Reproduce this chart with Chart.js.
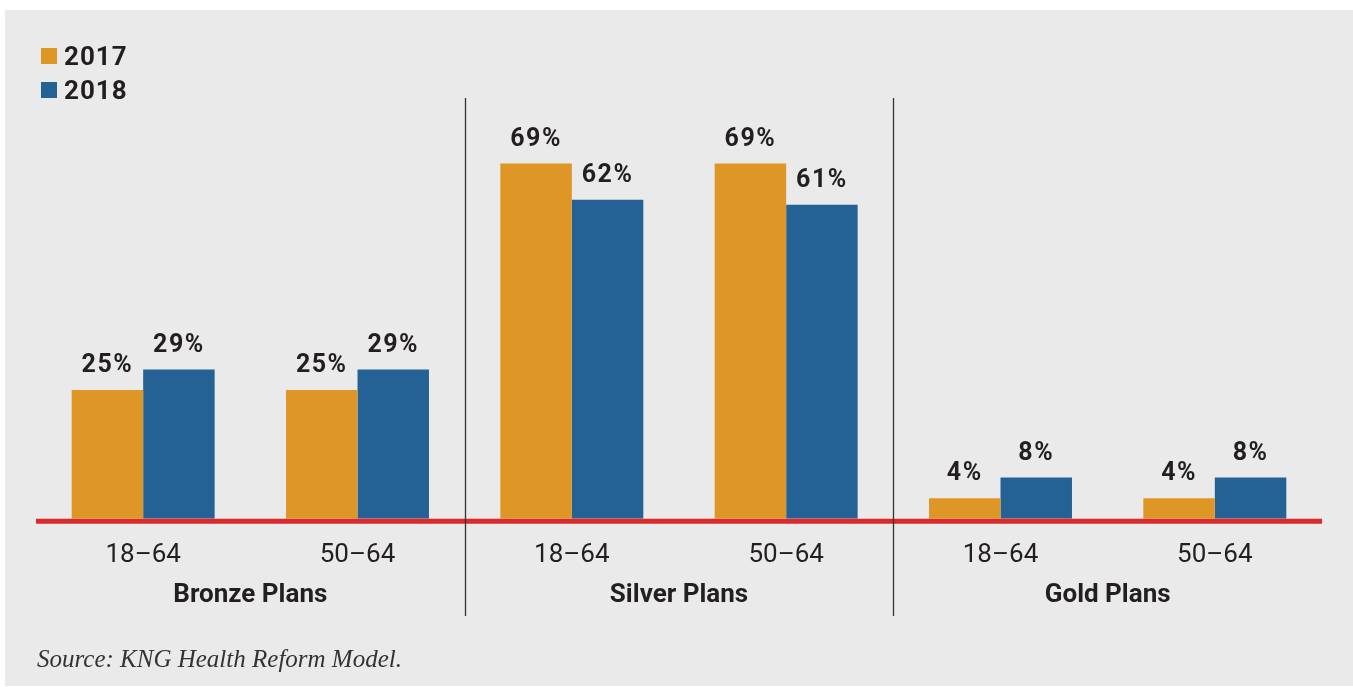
<!DOCTYPE html>
<html>
<head>
<meta charset="utf-8">
<script src="https://cdn.jsdelivr.net/npm/chart.js@4.4.1/dist/chart.umd.min.js"></script>
<style>
    html, body { margin: 0; padding: 0; background: #ffffff; }
    #panel {
        position: absolute; left: 5px; top: 10px; width: 1348px; height: 676px;
        background: #eaeaea;
    }
    #chart { position: absolute; left: 0; top: 0; }
    #legend { position: absolute; left: 41px; top: 39px; font-family: Roboto, sans-serif; }
    .legend-row { display: flex; align-items: center; height: 34px; }
    .legend-box { width: 16px; height: 16px; margin-right: 7px; }
    .legend-text { font-weight: bold; font-size: 26px; color: #231f20; letter-spacing: 1px; }
    #source {
        position: absolute; left: 37px; top: 645px;
        font-family: "Liberation Serif", serif; font-style: italic; font-size: 25px; color: #333333;
    }
</style>
</head>
<body>
<div id="panel"></div>
<canvas id="chart" width="1353" height="687"></canvas>
<div id="legend"></div>
<div id="source">Source: KNG Health Reform Model.</div>
<script>
const ageGroups = ['18–64', '50–64', '18–64', '50–64', '18–64', '50–64'];
const planGroups = ['Bronze Plans', 'Silver Plans', 'Gold Plans'];
const values2017 = [25, 25, 69, 69, 4, 4];
const values2018 = [29, 29, 62, 61, 8, 8];
const seriesNames = ['2017', '2018'];
const seriesColors = ['#de9726', '#246295'];

const textColor = '#231f20';

// value labels above each bar
const valueLabels = {
    id: 'valueLabels',
    afterDatasetsDraw(chart) {
        const ctx = chart.ctx;
        ctx.save();
        ctx.font = 'bold 25px Roboto, sans-serif';
        ctx.letterSpacing = '1.5px';
        ctx.fillStyle = textColor;
        ctx.textAlign = 'center';
        ctx.textBaseline = 'alphabetic';
        chart.data.datasets.forEach((ds, i) => {
            chart.getDatasetMeta(i).data.forEach((bar, j) => {
                ctx.fillText(ds.data[j] + '%', bar.x, bar.y - 18);
            });
        });
        ctx.restore();
    }
};

// red baseline, plan group names and vertical separators
const decorations = {
    id: 'decorations',
    afterDraw(chart) {
        const ctx = chart.ctx;
        const x = chart.scales.x;
        const y = chart.scales.y;
        const area = chart.chartArea;
        ctx.save();
        ctx.strokeStyle = '#d92b2b';
        ctx.lineWidth = 5;
        const y0 = y.getPixelForValue(0) + 2.5;
        ctx.beginPath();
        ctx.moveTo(area.left, y0);
        ctx.lineTo(area.right, y0);
        ctx.stroke();

        ctx.font = 'bold 26px Roboto, sans-serif';
        ctx.fillStyle = textColor;
        ctx.textAlign = 'center';
        ctx.textBaseline = 'middle';
        planGroups.forEach((name, g) => {
            const cx = (x.getPixelForValue(2 * g) + x.getPixelForValue(2 * g + 1)) / 2;
            ctx.fillText(name, cx, area.bottom + 77);
        });

        ctx.strokeStyle = '#333333';
        ctx.lineWidth = 1.3;
        [1, 3].forEach(i => {
            const px = Math.round((x.getPixelForValue(i) + x.getPixelForValue(i + 1)) / 2) + 0.5;
            ctx.beginPath();
            ctx.moveTo(px, 98);
            ctx.lineTo(px, 616);
            ctx.stroke();
        });
        ctx.restore();
    }
};

const legendEl = document.getElementById('legend');
seriesNames.forEach((name, i) => {
    const row = document.createElement('div');
    row.className = 'legend-row';
    row.innerHTML = `<div class="legend-box" style="background:${seriesColors[i]}"></div><span class="legend-text">${name}</span>`;
    legendEl.appendChild(row);
});

new Chart(document.getElementById('chart'), {
    type: 'bar',
    data: {
        labels: ageGroups,
        datasets: [
            { label: seriesNames[0], data: values2017, backgroundColor: seriesColors[0] },
            { label: seriesNames[1], data: values2018, backgroundColor: seriesColors[1] }
        ]
    },
    options: {
        responsive: false,
        animation: false,
        categoryPercentage: 0.667,
        barPercentage: 1,
        layout: { padding: { left: 36, right: 31, top: 107, bottom: 95 } },
        plugins: {
            legend: { display: false },
            tooltip: { enabled: false }
        },
        scales: {
            x: {
                grid: { display: false, drawTicks: false },
                border: { display: false },
                ticks: {
                    color: textColor,
                    padding: 21,
                    font: { family: 'Roboto, sans-serif', size: 26 }
                }
            },
            y: {
                display: false,
                min: 0,
                max: 80
            }
        }
    },
    plugins: [valueLabels, decorations]
});
</script>
</body>
</html>
